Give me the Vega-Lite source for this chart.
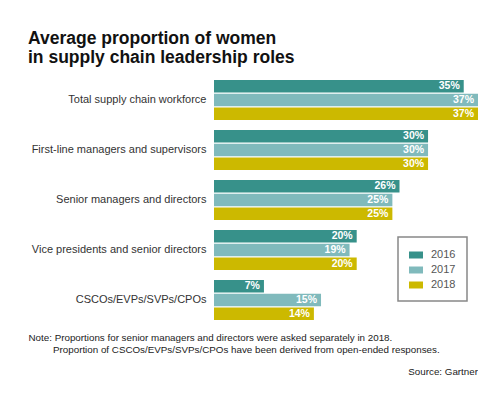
{
  "$schema": "https://vega.github.io/schema/vega-lite/v6.json",
  "padding": {"left": 28, "top": 29, "right": 0, "bottom": 0},
  "background": "white",
  "config": {"view": {"stroke": null}, "font": "Liberation Sans"},
  "title": {"text": "Source: Gartner", "orient": "bottom", "anchor": "end", "fontSize": 9.8, "fontWeight": "normal", "color": "#222", "offset": 13},
  "vconcat": [
    {
      "width": 264,
      "height": 240,
      "title": {"text": ["Average proportion of women", "in supply chain leadership roles"], "anchor": "start", "fontSize": 17.5, "fontWeight": "bold", "color": "#111", "lineHeight": 19, "offset": 14},
      "data": {
        "values": [
          {"role": "Total supply chain workforce", "year": "2016", "share": 0.35},
          {"role": "Total supply chain workforce", "year": "2017", "share": 0.37},
          {"role": "Total supply chain workforce", "year": "2018", "share": 0.37},
          {"role": "First-line managers and supervisors", "year": "2016", "share": 0.30},
          {"role": "First-line managers and supervisors", "year": "2017", "share": 0.30},
          {"role": "First-line managers and supervisors", "year": "2018", "share": 0.30},
          {"role": "Senior managers and directors", "year": "2016", "share": 0.26},
          {"role": "Senior managers and directors", "year": "2017", "share": 0.25},
          {"role": "Senior managers and directors", "year": "2018", "share": 0.25},
          {"role": "Vice presidents and senior directors", "year": "2016", "share": 0.20},
          {"role": "Vice presidents and senior directors", "year": "2017", "share": 0.19},
          {"role": "Vice presidents and senior directors", "year": "2018", "share": 0.20},
          {"role": "CSCOs/EVPs/SVPs/CPOs", "year": "2016", "share": 0.07},
          {"role": "CSCOs/EVPs/SVPs/CPOs", "year": "2017", "share": 0.15},
          {"role": "CSCOs/EVPs/SVPs/CPOs", "year": "2018", "share": 0.14}
        ]
      },
      "encoding": {
        "y": {
          "field": "role", "type": "nominal",
          "sort": ["Total supply chain workforce", "First-line managers and supervisors", "Senior managers and directors", "Vice presidents and senior directors", "CSCOs/EVPs/SVPs/CPOs"],
          "scale": {"paddingInner": 0.2, "paddingOuter": 0},
          "axis": {"title": null, "ticks": false, "domain": false, "grid": false, "labelPadding": 8, "labelFontSize": 11, "labelColor": "#333", "labelLimit": 300}
        },
        "yOffset": {"field": "year", "type": "nominal", "scale": {"paddingInner": 0.1, "paddingOuter": 0}},
        "x": {
          "field": "share", "type": "quantitative",
          "scale": {"domain": [0, 0.37], "nice": false},
          "axis": {
            "title": ["Note: Proportions for senior managers and directors were asked separately in 2018.", "\u200b\u00a0\u00a0\u00a0\u00a0\u00a0\u00a0\u00a0\u00a0\u00a0Proportion of CSCOs/EVPs/SVPs/CPOs have been derived from open-ended responses."],
            "labels": false, "ticks": false, "domain": false, "grid": false,
            "titleX": -186, "titleY": 20, "titleAlign": "left", "titleAnchor": "start", "titleBaseline": "alphabetic",
            "titleFontSize": 9.8, "titleFontWeight": "normal", "titleColor": "#222", "titleLineHeight": 12.5
          }
        }
      },
      "layer": [
        {
          "mark": {"type": "bar"},
          "encoding": {
            "color": {
              "field": "year", "type": "nominal",
              "scale": {"domain": ["2016", "2017", "2018"], "range": ["#37918a", "#80babc", "#ccb900"]},
              "legend": {
                "title": null, "orient": "none", "legendX": 184, "legendY": 157,
                "padding": 11, "strokeColor": "#888",
                "symbolType": "M-1,-0.5H1V0.5H-1Z", "symbolSize": 196, "symbolStrokeWidth": 0,
                "labelFontSize": 11, "labelColor": "#555", "labelOffset": 8, "rowPadding": 3,
                "encode": {"legend": {"update": {"strokeWidth": {"value": 1.5}}}}
              }
            }
          }
        },
        {
          "mark": {"type": "text", "align": "right", "baseline": "middle", "dx": -4, "color": "white", "fontWeight": "bold", "fontSize": 10.5},
          "encoding": {"text": {"field": "share", "type": "quantitative", "format": ".0%"}}
        }
      ]
    }
  ]
}
